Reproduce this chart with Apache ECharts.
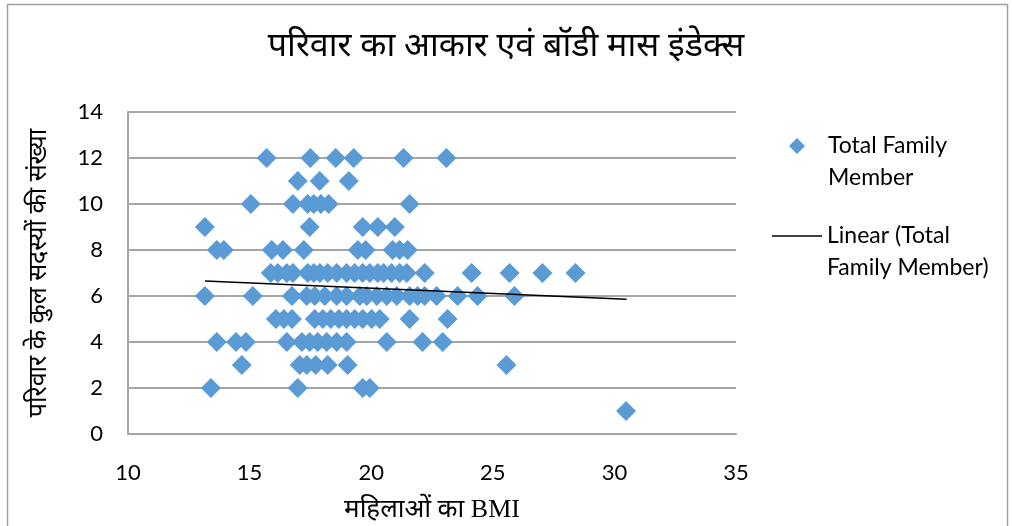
<!DOCTYPE html>
<html>
<head>
<meta charset="utf-8">
<script src="https://cdn.jsdelivr.net/npm/echarts@6/dist/echarts.min.js"></script>
<style>
  html, body { margin: 0; padding: 0; background: #fff; }
  #chart { width: 1012px; height: 526px; }
</style>
</head>
<body>
<div id="chart"></div>
<script>
// Number of family members (one row per count) and the women's BMI values at that count
const memberCounts = [12, 11, 10, 9, 8, 7, 6, 5, 4, 3, 2, 1];
const bmiRows = [
  [15.70, 17.50, 18.54, 19.28, 21.33, 23.09],
  [16.98, 17.88, 19.08],
  [15.05, 16.78, 17.39, 17.64, 17.93, 18.25, 21.58],
  [13.16, 17.47, 19.65, 20.27, 20.97],
  [13.65, 13.94, 15.91, 16.37, 17.23, 19.45, 19.77, 20.88, 21.17, 21.50],
  [15.87, 16.16, 16.53, 16.78, 17.39, 17.64, 17.89, 18.21, 18.58, 18.99, 19.32, 19.65,
   19.94, 20.27, 20.51, 20.84, 21.17, 21.46, 22.20, 24.13, 25.69, 27.04, 28.40],
  [13.16, 15.13, 16.74, 17.35, 17.68, 18.09, 18.58, 18.99, 19.53, 19.82, 20.23, 20.64,
   21.05, 21.58, 21.91, 22.20, 22.69, 23.55, 24.37, 25.89],
  [16.08, 16.41, 16.74, 17.68, 18.01, 18.34, 18.67, 18.99, 19.32, 19.65, 20.02, 20.35,
   21.58, 23.14],
  [13.65, 14.44, 14.85, 16.53, 17.15, 17.47, 17.80, 18.17, 18.58, 18.99, 20.64, 22.11, 22.94],
  [14.68, 17.06, 17.35, 17.72, 18.21, 19.03, 25.56],
  [13.41, 16.98, 19.65, 19.94],
  [30.48]
];

// Linear trend line end points (BMI, members)
const trendBmi = [13.17, 30.5];
const trendMembers = [6.65, 5.86];

// Axis ticks
const xTicks = { min: 10, max: 35, interval: 5 };
const yTicks = { min: 0, max: 14, interval: 2 };

const titleText = 'परिवार का आकार एवं बॉडी मास इंडेक्स';
const xTitle = 'महिलाओं का BMI';
const yTitle = 'परिवार के कुल सदस्यों की संख्या';
const scatterName = 'Total Family Member';
const trendName = 'Linear (Total Family Member)';

const points = [];
memberCounts.forEach((m, i) => bmiRows[i].forEach(b => points.push([b, m])));
const trendPoints = trendBmi.map((b, i) => [b, trendMembers[i]]);

const latin = 'Lato, "Open Sans", "Noto Sans", sans-serif';
const deva = '"Noto Sans Devanagari", "Lohit Devanagari", "FreeSans", "Noto Sans", sans-serif';

// Legend text: a leading blank line keeps the icon level with the first text line
const legendText = {
  fontFamily: latin, fontSize: 23, color: '#000', lineHeight: 32
};

const chart = echarts.init(document.getElementById('chart'), null, { renderer: 'canvas' });

chart.setOption({
  backgroundColor: '#ffffff',
  animation: false,
  title: {
    text: titleText,
    left: 'center',
    top: 28,
    textStyle: { fontFamily: deva, fontSize: 34, fontWeight: 'normal', color: '#000' }
  },
  grid: { left: 128, right: 276, top: 112, bottom: 92, outerBoundsMode: 'none', containLabel: false },
  legend: [
    {
      data: [{ name: scatterName, icon: 'diamond' }],
      orient: 'vertical',
      left: 789,
      top: 98,
      padding: 0,
      itemWidth: 16,
      itemHeight: 16,
      formatter: () => '\nTotal Family\nMember',
      textStyle: Object.assign({ padding: [0, 0, 0, 18] }, legendText)
    },
    {
      data: [{ name: trendName, icon: 'rect', itemStyle: { color: '#000' } }],
      orient: 'vertical',
      left: 772,
      top: 188,
      padding: 0,
      itemWidth: 50,
      itemHeight: 1.5,
      formatter: () => '\nLinear (Total\nFamily Member)',
      textStyle: legendText
    }
  ],
  xAxis: {
    type: 'value',
    min: xTicks.min,
    max: xTicks.max,
    interval: xTicks.interval,
    name: xTitle,
    nameLocation: 'middle',
    nameGap: 63,
    nameTextStyle: { fontFamily: '"Liberation Serif", ' + deva, fontSize: 26, color: '#000' },
    axisLine: { show: true, onZero: false, lineStyle: { color: '#a6a6a6', width: 2 } },
    axisTick: { show: false },
    splitLine: { show: false },
    axisLabel: { fontFamily: latin, fontSize: 22, color: '#000', margin: 28 }
  },
  yAxis: {
    type: 'value',
    min: yTicks.min,
    max: yTicks.max,
    interval: yTicks.interval,
    name: yTitle,
    nameLocation: 'middle',
    nameRotate: 90,
    nameGap: 74,
    nameTextStyle: { fontFamily: deva, fontSize: 25, color: '#000' },
    axisLine: { show: true, lineStyle: { color: '#a6a6a6', width: 2 } },
    axisTick: { show: false },
    splitLine: { show: true, lineStyle: { color: '#a6a6a6', width: 2 } },
    axisLabel: { fontFamily: latin, fontSize: 22, color: '#000', margin: 25 }
  },
  series: [
    {
      name: scatterName,
      type: 'scatter',
      symbol: 'diamond',
      symbolSize: 20,
      itemStyle: { color: '#5b9bd5', opacity: 1 },
      data: points,
      z: 2
    },
    {
      name: trendName,
      type: 'line',
      symbol: 'none',
      lineStyle: { color: '#000', width: 1.5 },
      data: trendPoints,
      z: 3
    }
  ],
  graphic: [
    {
      type: 'rect',
      shape: { x: 7.5, y: 4.5, width: 1000, height: 560 },
      style: { fill: null, stroke: '#a0a0a0', lineWidth: 1.5 },
      silent: true,
      z: -1
    }
  ]
});
</script>
</body>
</html>
